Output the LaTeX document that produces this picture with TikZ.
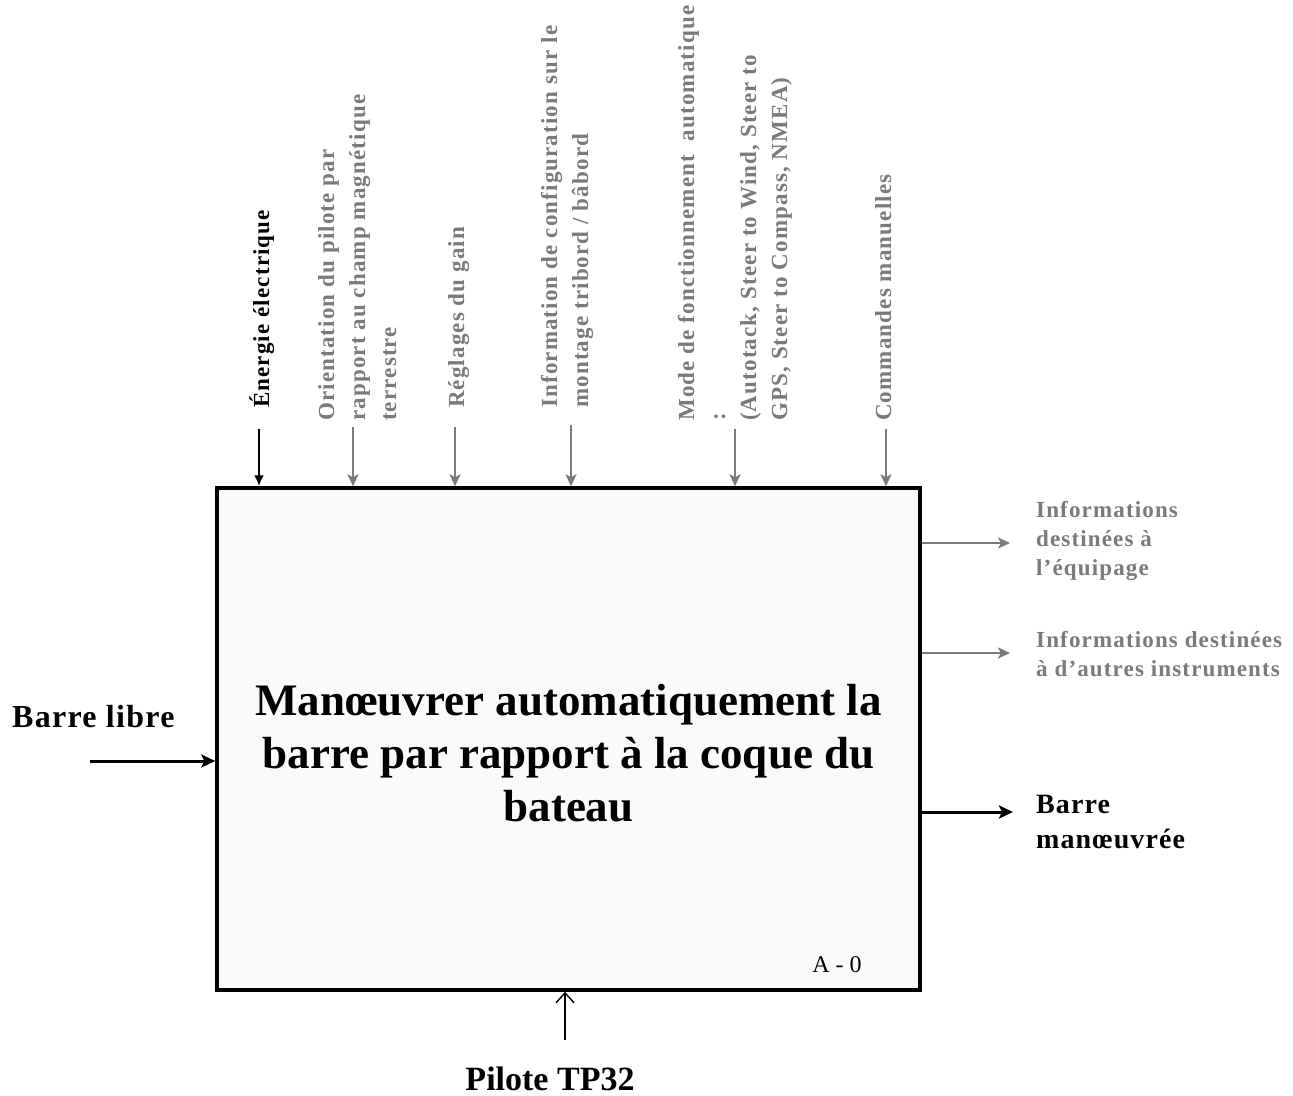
\documentclass[tikz,border=0pt]{standalone}
\usepackage{fontspec}
\setmainfont{Liberation Serif}
\newfontfamily\lsp{Liberation Serif}[LetterSpace=5]
\newfontfamily\lspb{Liberation Serif}[LetterSpace=4]
\usetikzlibrary{arrows.meta}
\definecolor{lblgray}{HTML}{7A7A7A}
\definecolor{boxfill}{HTML}{FAFAFA}
\begin{document}
\begin{tikzpicture}[x=1pt,y=-1pt,
  vlab/.style={rotate=90, anchor=north west, inner sep=0pt, align=left,
    font=\lsp\bfseries\fontsize{23}{31}\selectfont, text=lblgray},
  rlab/.style={anchor=north west, inner sep=0pt, align=left,
    font=\lsp\bfseries\fontsize{23}{29}\selectfont, text=lblgray},
  blkarr/.style={draw=black, line width=2.4pt, -{Latex[length=11pt,width=10pt]}},
  gryarr/.style={draw=lblgray, line width=2.4pt, -{Stealth[length=12pt,width=11pt,inset=3pt]}},
  mainarr/.style={draw=black, line width=3pt, -{Stealth[length=14pt,width=13pt,inset=3pt]}},
  mecharr/.style={draw=black, line width=1.4pt, -{Straight Barb[length=10pt,width=18pt]}},
  funcbox/.style={draw=black, line width=3.5pt, fill=boxfill, inner sep=0pt,
    minimum width=703pt, minimum height=502pt}
]
\useasboundingbox (0,0) rectangle (1293,1095);
\fill[white] (0,0) rectangle (1293,1095);

% main box
\node[funcbox] (box) at (568.5,739) {};
\node[anchor=north, inner sep=0pt, align=center,
  font=\bfseries\fontsize{45}{53}\selectfont] (title) at (568.5,679)
  {\rule{0pt}{36pt}Manœuvrer automatiquement la\\barre par rapport à la coque du\\bateau};
\node[anchor=base, inner sep=0pt, font=\fontsize{24}{28}\selectfont] (ref) at (837,972) {A - 0};

% controls (top)
\node[vlab, text=black] (lener) at (247,408) {\rule{0pt}{22pt}Énergie électrique};
\node[vlab] (lorient) at (312,421) {\rule{0pt}{22pt}Orientation du pilote par\\rapport au champ magnétique\\terrestre};
\node[vlab] (lregl) at (442,408) {\rule{0pt}{22pt}Réglages du gain};
\node[vlab] (linfo) at (535,408) {\rule{0pt}{22pt}Information de configuration sur le\\montage tribord / bâbord};
\node[vlab] (lmode) at (672,421) {\rule{0pt}{22pt}Mode de fonctionnement\ \ automatique\\:\\(Autotack, Steer to Wind, Steer to\\GPS, Steer to Compass, NMEA)};
\node[vlab] (lcmd) at (869,421) {\rule{0pt}{22pt}Commandes manuelles};

\coordinate (cener) at (259,429);
\coordinate (corient) at (353,427);
\coordinate (cregl) at (455,427);
\coordinate (cinfo) at (571,425);
\coordinate (cmode) at (735,429);
\coordinate (ccmd) at (886,429);
\draw[blkarr] (cener) -- (cener |- box.north);
\draw[gryarr] (corient) -- (corient |- box.north);
\draw[gryarr] (cregl) -- (cregl |- box.north);
\draw[gryarr] (cinfo) -- (cinfo |- box.north);
\draw[gryarr] (cmode) -- (cmode |- box.north);
\draw[gryarr] (ccmd) -- (ccmd |- box.north);

% input (left)
\node[anchor=base west, inner sep=0pt, font=\lspb\bfseries\fontsize{32}{38}\selectfont] (lin) at (12,727) {Barre libre};
\coordinate (cin) at (90,761);
\draw[mainarr] (cin) -- (cin -| box.west);

% outputs (right)
\node[rlab] (lout1) at (1036,495) {\rule{0pt}{22pt}Informations\\destinées à\\l’équipage};
\node[rlab] (lout2) at (1036,625) {\rule{0pt}{22pt}Informations destinées\\à d’autres instruments};
\node[anchor=north west, inner sep=0pt, align=left,
  font=\lspb\bfseries\fontsize{28}{35}\selectfont] (lout3) at (1036,787) {\rule{0pt}{26pt}Barre\\manœuvrée};
\coordinate (cout1) at (1010,543);
\coordinate (cout2) at (1010,653);
\coordinate (cout3) at (1013,812);
\draw[gryarr] (box.east |- cout1) -- (cout1);
\draw[gryarr] (box.east |- cout2) -- (cout2);
\draw[mainarr] (box.east |- cout3) -- (cout3);

% mechanism (bottom)
\node[anchor=base, inner sep=0pt, font=\bfseries\fontsize{34}{40}\selectfont] (lmech) at (550,1090) {Pilote TP32};
\coordinate (cmech) at (565,1040);
\draw[mecharr] (cmech) -- (cmech |- box.south);
\end{tikzpicture}
\end{document}
